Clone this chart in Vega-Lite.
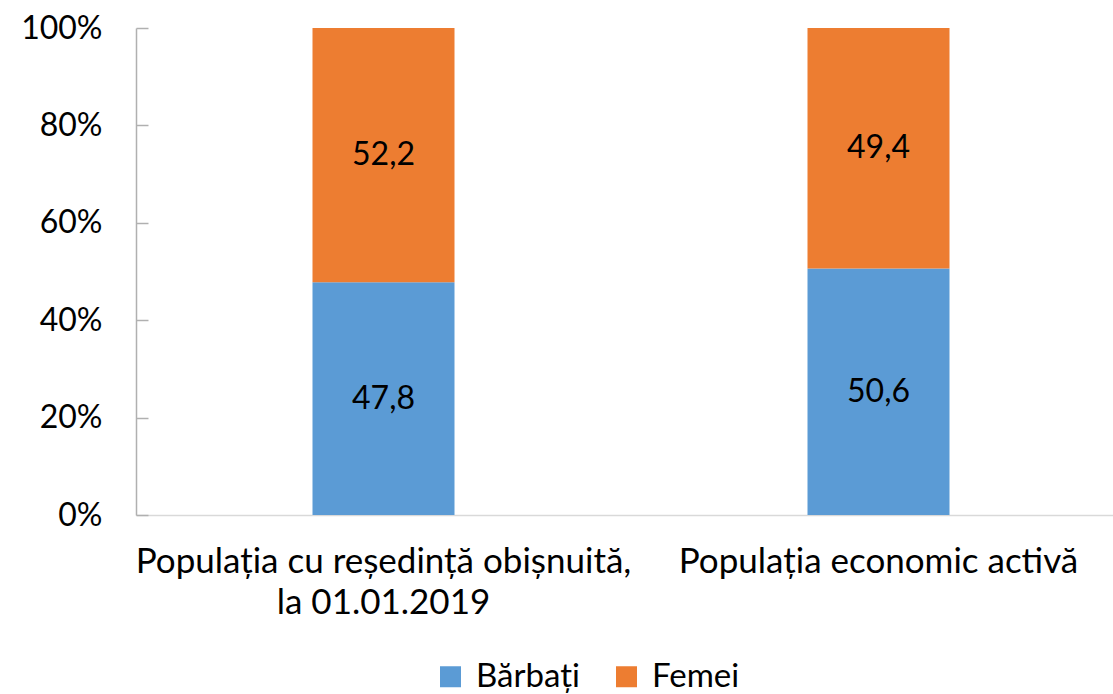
{
  "$schema": "https://vega.github.io/schema/vega-lite/v6.json",
  "width": 990,
  "height": 487,
  "autosize": {"type": "none"},
  "padding": {"left": 136, "top": 28, "right": 0, "bottom": 179},
  "background": "white",
  "config": {
    "view": {"stroke": null},
    "font": "Lato",
    "locale": {"number": {"decimal": ",", "thousands": ".", "grouping": [3], "currency": ["", " lei"]}}
  },
  "data": {
    "values": [
      {"categorie": "Populația cu reședință obișnuită, la 01.01.2019", "sex": "Bărbați", "pondere": 47.8},
      {"categorie": "Populația cu reședință obișnuită, la 01.01.2019", "sex": "Femei", "pondere": 52.2},
      {"categorie": "Populația economic activă", "sex": "Bărbați", "pondere": 50.6},
      {"categorie": "Populația economic activă", "sex": "Femei", "pondere": 49.4}
    ]
  },
  "encoding": {
    "x": {
      "field": "categorie",
      "type": "nominal",
      "sort": null,
      "scale": {"paddingInner": 0, "paddingOuter": 0},
      "axis": {
        "title": null,
        "labelAngle": 0,
        "labelFontSize": 35,
        "labelColor": "#000000",
        "labelPadding": 29,
        "labelLineHeight": 41,
        "labelBaseline": "top",
        "labelLimit": 0,
        "ticks": false,
        "domainColor": "#d9d9d9",
        "domainWidth": 1.5,
        "labelExpr": "datum.label == 'Populația cu reședință obișnuită, la 01.01.2019' ? ['Populația cu reședință obișnuită,', 'la 01.01.2019'] : datum.label"
      }
    },
    "order": {"field": "sex", "sort": "ascending"}
  },
  "layer": [
    {
      "mark": {"type": "bar", "size": 142},
      "encoding": {
        "y": {
          "field": "pondere",
          "type": "quantitative",
          "stack": "normalize",
          "scale": {"domain": [0, 1], "nice": false},
          "axis": {
            "title": null,
            "format": ".0%",
            "values": [0, 0.2, 0.4, 0.6, 0.8, 1],
            "grid": false,
            "labelFontSize": 32,
            "labelColor": "#000000",
            "labelPadding": 46,
            "tickSize": -12,
            "tickColor": "#b0b0b0",
            "domainColor": "#b0b0b0",
            "domainWidth": 1.5,
            "tickWidth": 1.5
          }
        },
        "color": {
          "field": "sex",
          "type": "nominal",
          "scale": {"domain": ["Bărbați", "Femei"], "range": ["#5B9BD5", "#ED7D31"]},
          "legend": {
            "title": null,
            "orient": "none",
            "direction": "horizontal",
            "legendX": 298,
            "legendY": 632,
            "symbolType": "square",
            "symbolSize": 441,
            "symbolStrokeWidth": 0,
            "symbolOpacity": 1,
            "labelFontSize": 33,
            "labelColor": "#000000",
            "columnPadding": 30,
            "labelOffset": 9,
            "labelLimit": 0
          }
        }
      }
    },
    {
      "mark": {"type": "text", "fontSize": 32, "color": "#000000"},
      "encoding": {
        "y": {"field": "pondere", "type": "quantitative", "stack": "normalize", "bandPosition": 0.5},
        "detail": {"field": "sex"},
        "text": {"field": "pondere", "type": "quantitative", "format": ".1f"}
      }
    }
  ]
}
